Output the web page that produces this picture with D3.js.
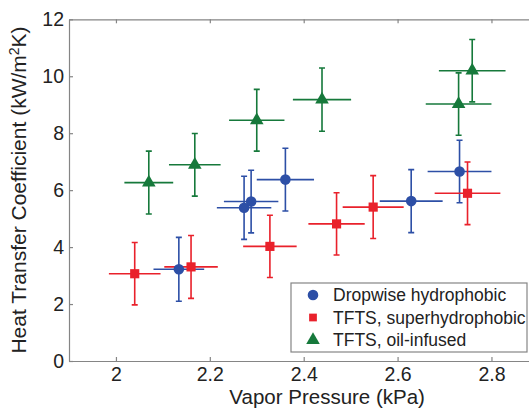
<!DOCTYPE html>
<html>
<head>
<meta charset="utf-8">
<script src="https://cdn.jsdelivr.net/npm/d3@7"></script>
<style>
    body { margin: 0; background: #fff; }
    svg { display: block; font-family: "Liberation Sans", Arial, sans-serif; }
</style>
</head>
<body>
<div id="chart"></div>
<script>
// Dropwise hydrophobic (blue circles)
var dropX = [2.134, 2.273, 2.288, 2.361, 2.629, 2.732];
var dropY = [3.22, 5.38, 5.60, 6.37, 5.615, 6.655];
var dropXErr = [0.054, 0.058, 0.058, 0.061, 0.067, 0.068];
var dropYErr = [1.12, 1.11, 1.10, 1.10, 1.105, 1.095];

// TFTS, superhydrophobic (red squares)
var superX = [2.040, 2.160, 2.328, 2.470, 2.548, 2.749];
var superY = [3.065, 3.305, 4.025, 4.815, 5.405, 5.89];
var superXErr = [0.055, 0.057, 0.057, 0.060, 0.065, 0.070];
var superYErr = [1.095, 1.105, 1.095, 1.095, 1.105, 1.10];

// TFTS, oil-infused (green triangles)
var oilX = [2.070, 2.168, 2.300, 2.439, 2.730, 2.759];
var oilY = [6.265, 6.89, 8.455, 9.18, 9.025, 10.195];
var oilXErr = [0.052, 0.055, 0.059, 0.062, 0.070, 0.071];
var oilYErr = [1.105, 1.10, 1.085, 1.11, 1.095, 1.095];

var xTicks = [2, 2.2, 2.4, 2.6, 2.8];
var yTicks = [0, 2, 4, 6, 8, 10, 12];
var seriesNames = ["Dropwise hydrophobic", "TFTS, superhydrophobic", "TFTS, oil-infused"];

var axisGrey = "#858585";
var textColor = "#222";

var series = [
    {name: seriesNames[0], x: dropX, y: dropY, xe: dropXErr, ye: dropYErr, color: "#2d4fa6", shape: d3.symbolCircle, size: 88},
    {name: seriesNames[1], x: superX, y: superY, xe: superXErr, ye: superYErr, color: "#e9212b", shape: d3.symbolSquare, size: 84},
    {name: seriesNames[2], x: oilX, y: oilY, xe: oilXErr, ye: oilYErr, color: "#16793b", shape: d3.symbolTriangle, size: 80}
];

var width = 529, height = 408;
var margin = {top: 19.3, left: 69};
var plotW = 469.4, plotH = 341.7;

var svg = d3.select("#chart").append("svg")
    .attr("width", width)
    .attr("height", height);

// Scales
var x = d3.scaleLinear().domain([1.9, 2.9]).range([margin.left, margin.left + plotW]);
var y = d3.scaleLinear().domain([0, 12]).range([margin.top + plotH, margin.top]);

// Axes (matlab style, ticks inside the box)
var xAxis = d3.axisBottom(x).tickValues(xTicks).tickSizeInner(-4).tickSizeOuter(0).tickPadding(6)
    .tickFormat(d3.format("~g"));
var yAxis = d3.axisLeft(y).tickValues(yTicks).tickSizeInner(-4).tickSizeOuter(0).tickPadding(5);
var xTop = d3.axisTop(x).tickValues(xTicks).tickSizeInner(-4).tickSizeOuter(0).tickFormat("");
var yRight = d3.axisRight(y).tickValues(yTicks).tickSizeInner(-4).tickSizeOuter(0).tickFormat("");

var axes = [
    svg.append("g").attr("transform", "translate(0," + (margin.top + plotH) + ")").call(xAxis),
    svg.append("g").attr("transform", "translate(" + margin.left + ",0)").call(yAxis),
    svg.append("g").attr("transform", "translate(0," + margin.top + ")").call(xTop),
    svg.append("g").attr("transform", "translate(" + (margin.left + plotW) + ",0)").call(yRight)
];

axes.forEach(function(g) {
    g.select(".domain").attr("stroke", axisGrey).attr("stroke-width", 1.2);
    g.selectAll(".tick line").attr("stroke", axisGrey).attr("stroke-width", 1.2);
    g.selectAll(".tick text")
        .attr("fill", textColor)
        .style("font-size", "19.5px")
        .style("font-family", "'Liberation Sans', Arial, sans-serif");
});

// Axis titles
svg.append("text")
    .attr("x", x(2.45))
    .attr("y", 404)
    .attr("text-anchor", "middle")
    .attr("fill", textColor)
    .style("font-size", "20.5px")
    .text("Vapor Pressure (kPa)");

var yLabel = svg.append("text")
    .attr("transform", "translate(26," + 190 + ") rotate(-90)")
    .attr("text-anchor", "middle")
    .attr("fill", textColor)
    .style("font-size", "21px");
yLabel.append("tspan").text("Heat Transfer Coefficient (kW/m");
yLabel.append("tspan").attr("dy", -7).style("font-size", "14px").text("2");
yLabel.append("tspan").attr("dy", 7).text("K)");

// Error bars first, markers on top
var bars = svg.append("g");
var marks = svg.append("g");
var cap = 3;

series.forEach(function(s) {
    var pts = s.x.map(function(v, i) {
        return {x: v, y: s.y[i], xe: s.xe[i], ye: s.ye[i]};
    });

    var g = bars.append("g").attr("stroke", s.color).attr("stroke-width", 1.6).attr("fill", "none");

    // horizontal bars
    g.selectAll(".hbar").data(pts).enter().append("line")
        .attr("x1", function(d) { return x(d.x - d.xe); })
        .attr("x2", function(d) { return x(d.x + d.xe); })
        .attr("y1", function(d) { return y(d.y); })
        .attr("y2", function(d) { return y(d.y); });

    // vertical bars with caps
    g.selectAll(".vbar").data(pts).enter().append("path")
        .attr("d", function(d) {
            var cx = x(d.x), t = y(d.y + d.ye), b = y(d.y - d.ye);
            return "M" + cx + "," + t + "V" + b +
                "M" + (cx - cap) + "," + t + "H" + (cx + cap) +
                "M" + (cx - cap) + "," + b + "H" + (cx + cap);
        });

    marks.selectAll(null).data(pts).enter().append("path")
        .attr("transform", function(d) { return "translate(" + x(d.x) + "," + y(d.y) + ")"; })
        .attr("d", d3.symbol().type(s.shape).size(s.size))
        .attr("fill", s.color);
});

// Legend
var legend = svg.append("g");
legend.append("rect")
    .attr("x", 291).attr("y", 283)
    .attr("width", 236).attr("height", 69)
    .attr("fill", "#fff")
    .attr("stroke", axisGrey)
    .attr("stroke-width", 1.2);

series.forEach(function(s, i) {
    var cy = 295 + i * 22.5;
    legend.append("path")
        .attr("transform", "translate(313," + cy + ")")
        .attr("d", d3.symbol().type(s.shape).size(i === 1 ? 60 : s.size))
        .attr("fill", s.color);
    legend.append("text")
        .attr("x", 333)
        .attr("y", cy + 6.3)
        .attr("fill", textColor)
        .style("font-size", "17.5px")
        .text(s.name);
});
</script>
</body>
</html>
